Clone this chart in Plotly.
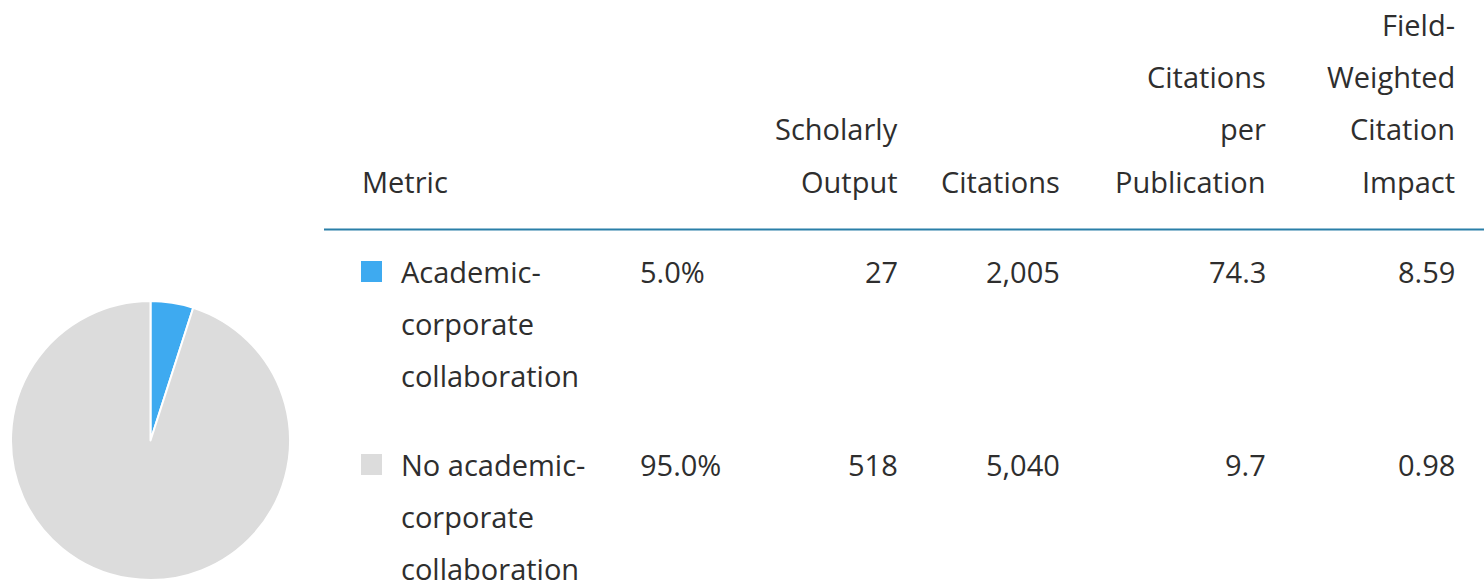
import plotly.graph_objects as go

# Collaboration breakdown
category_lines = [
    ["Academic-", "corporate", "collaboration"],
    ["No academic-", "corporate", "collaboration"],
]
scholarly_output = [27, 518]
citations = [2005, 5040]
citations_per_pub = [74.3, 9.7]
fwci = [8.59, 0.98]
slice_colors = ["#3eaaf0", "#dcdcdc"]

header_lines = {
    "metric": ["Metric"],
    "output": ["Scholarly", "Output"],
    "citations": ["Citations"],
    "cpp": ["Citations", "per", "Publication"],
    "fwci": ["Field-", "Weighted", "Citation", "Impact"],
}

W, H = 1484, 584
FONT = "Open Sans"
TXT = "#2e2e2e"
FS = 29
LINE = 52.3

total = sum(scholarly_output)
shares = [v / total * 100 for v in scholarly_output]

fig = go.Figure()

fig.add_trace(go.Pie(
    labels=[" ".join(l) for l in category_lines],
    values=scholarly_output,
    sort=False,
    direction="clockwise",
    rotation=0,
    marker=dict(colors=slice_colors, line=dict(color="white", width=2)),
    textinfo="none",
    showlegend=False,
    domain=dict(x=[11 / W, 290 / W], y=[1 - 580 / H, 1 - 301 / H]),
))

annotations = []
shapes = []


def txt(x, y, s, anchor):
    annotations.append(dict(
        x=x, y=y, xref="x", yref="y", text=s, showarrow=False,
        xanchor=anchor, yanchor="middle",
        font=dict(family=FONT, size=FS, color=TXT),
    ))


# column right edges (pixels) for the numeric columns
col_right = {"output": 900, "citations": 1062, "cpp": 1268, "fwci": 1457}
header_bottom = 181

# header
for i, s in enumerate(reversed(header_lines["metric"])):
    txt(360, header_bottom - i * LINE, s, "left")
for key, xr in col_right.items():
    for i, s in enumerate(reversed(header_lines[key])):
        txt(xr, header_bottom - i * LINE, s, "right")

shapes.append(dict(type="line", xref="x", yref="y", x0=324, x1=W, y0=229.5, y1=229.5,
                   line=dict(color="#2a7fa8", width=2)))

# body rows
row_top = [271, 464]
for r in range(len(category_lines)):
    y0 = row_top[r]
    shapes.append(dict(type="rect", xref="x", yref="y", x0=361, x1=382,
                       y0=y0 - 10, y1=y0 + 11, fillcolor=slice_colors[r],
                       line=dict(width=0)))
    for i, s in enumerate(category_lines[r]):
        txt(399, y0 + i * LINE, s, "left")
    txt(638, y0, f"{shares[r]:.1f}%", "left")
    txt(col_right["output"], y0, f"{scholarly_output[r]:,}", "right")
    txt(col_right["citations"], y0, f"{citations[r]:,}", "right")
    txt(col_right["cpp"], y0, f"{citations_per_pub[r]:.1f}", "right")
    txt(col_right["fwci"], y0, f"{fwci[r]:.2f}", "right")

fig.update_layout(
    width=W, height=H,
    margin=dict(l=0, r=0, t=0, b=0),
    paper_bgcolor="white", plot_bgcolor="white",
    xaxis=dict(range=[0, W], visible=False, fixedrange=True, domain=[0, 1]),
    yaxis=dict(range=[H, 0], visible=False, fixedrange=True, domain=[0, 1]),
    annotations=annotations,
    shapes=shapes,
    showlegend=False,
)

fig.write_html("out.html")
